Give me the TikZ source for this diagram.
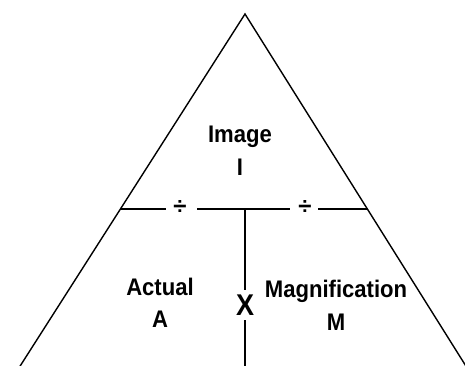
\documentclass[tikz,border=0pt]{standalone}
\usepackage{fontspec}
\setmainfont{Liberation Sans}
\begin{document}
\begin{tikzpicture}[x=1pt,y=1pt,
  lbl/.style={font=\fontsize{24}{25}\selectfont\bfseries, inner sep=0pt, xscale=0.92},
  bigx/.style={font=\fontsize{30}{30}\selectfont\bfseries, inner sep=0pt, xscale=0.9},
  divsym/.style={font=\fontsize{24}{24}\selectfont\bfseries, inner sep=0pt},
  side/.style={line width=1.4pt, black},
  bar/.style={line width=2.6pt, black}]
\useasboundingbox (0,0) rectangle (465,365);
\clip (0,0) rectangle (465,365);
% triangle
\coordinate (apex) at (245,351);
\coordinate (bl) at (19.5,-2);
\coordinate (br) at (466.5,-2);
\draw[side, line join=miter] (bl) -- (apex) -- (br);
% horizontal divider
\coordinate (hl) at (120,156);
\coordinate (hr) at (368,156);
\node[divsym] (d1) at (180,157) {÷};
\node[divsym] (d2) at (305,157) {÷};
\coordinate (s1) at (166,156);
\coordinate (s2) at (197,156);
\coordinate (s3) at (290,156);
\coordinate (s4) at (318,156);
\coordinate (top) at (245,156);
\draw[bar] (hl) -- (s1);
\draw[bar] (s2) -- (s3);
\draw[bar] (s4) -- (hr);
% vertical divider
\node[bigx] (x) at (245,60) {X};
\coordinate (vt) at (245,75);
\coordinate (vm) at (245,45);
\coordinate (vb) at (245,-2);
\draw[bar] (top) -- (vt);
\draw[bar] (vm) -- (vb);
% labels
\node[lbl] (image) at (240,228) {Image};
\node[lbl] (i) at (240,198) {I};
\node[lbl] (actual) at (160,78) {Actual};
\node[lbl] (a) at (160,46) {A};
\node[lbl] (mag) at (336,74) {Magnification};
\node[lbl] (m) at (336,43) {M};
\end{tikzpicture}
\end{document}
